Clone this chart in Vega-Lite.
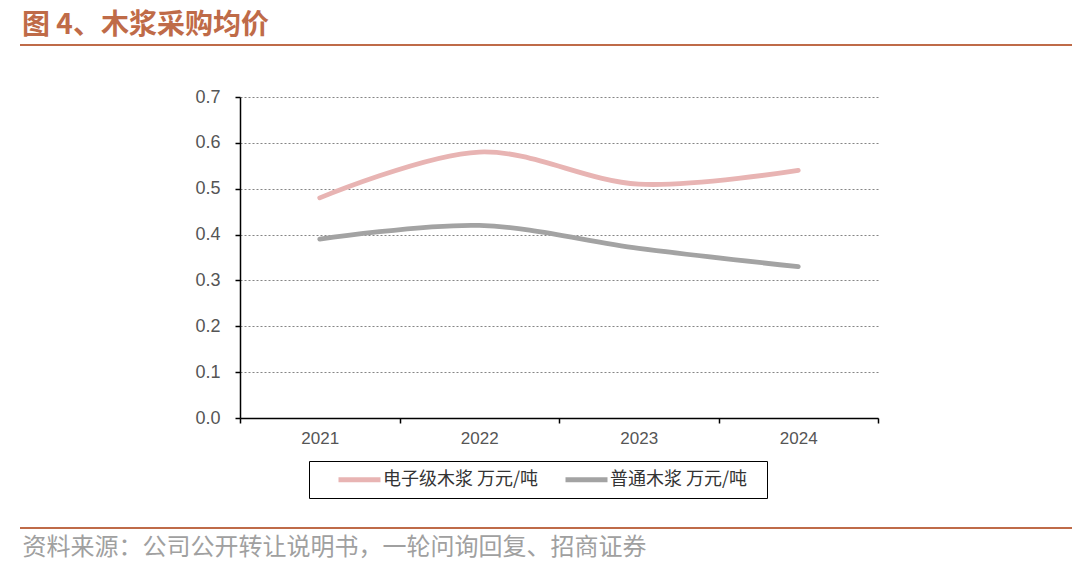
{
  "$schema": "https://vega.github.io/schema/vega-lite/v6.json",
  "width": 638,
  "height": 321,
  "autosize": {"type": "none"},
  "padding": {"left": 240, "top": 97, "right": 202, "bottom": 144},
  "background": "white",
  "title": {
    "text": "图 4、木浆采购均价",
    "anchor": "start",
    "frame": "group",
    "dx": -218,
    "offset": 4,
    "fontSize": 28,
    "font": "Noto Sans CJK SC",
    "fontWeight": "bold",
    "color": "#BF6B48"
  },
  "config": {
    "view": {"stroke": null},
    "font": "Liberation Sans"
  },
  "data": {
    "values": [
      {"year": "2021", "series": "电子级木浆 万元/吨", "value": 0.48},
      {"year": "2022", "series": "电子级木浆 万元/吨", "value": 0.58},
      {"year": "2023", "series": "电子级木浆 万元/吨", "value": 0.51},
      {"year": "2024", "series": "电子级木浆 万元/吨", "value": 0.54},
      {"year": "2021", "series": "普通木浆 万元/吨", "value": 0.39},
      {"year": "2022", "series": "普通木浆 万元/吨", "value": 0.42},
      {"year": "2023", "series": "普通木浆 万元/吨", "value": 0.37},
      {"year": "2024", "series": "普通木浆 万元/吨", "value": 0.33}
    ]
  },
  "layer": [
    {
      "mark": {"type": "rule", "color": "#BF6B48", "strokeWidth": 2},
      "encoding": {
        "x": {"value": -220},
        "x2": {"value": 832},
        "y": {"value": -52}
      }
    },
    {
      "mark": {"type": "rule", "color": "#BF6B48", "strokeWidth": 2},
      "encoding": {
        "x": {"value": -220},
        "x2": {"value": 832},
        "y": {"value": 431}
      }
    },
    {
      "mark": {"type": "line", "strokeWidth": 4.8, "interpolate": "catmull-rom", "strokeCap": "round"},
      "encoding": {
        "x": {
          "field": "year",
          "type": "ordinal",
          "bandPosition": 0.5,
          "scale": {"type": "band", "paddingInner": 0, "paddingOuter": 0},
          "axis": {
            "labelAngle": 0,
            "labelFontSize": 17,
            "labelColor": "#555555",
            "labelPadding": 7,
            "tickBand": "extent",
            "domainColor": "#000000",
            "domainWidth": 1.5,
            "tickColor": "#000000",
            "tickSize": 5,
            "tickWidth": 1.5,
            "grid": false,
            "title": "资料来源：公司公开转让说明书，一轮问询回复、招商证券",
            "titleFont": "Noto Sans CJK SC",
            "titleFontSize": 24,
            "titleFontWeight": "normal",
            "titleColor": "#A0A0A0",
            "titleAnchor": "start",
            "titleAlign": "left",
            "titleBaseline": "middle",
            "titleX": -218,
            "titleY": 129
          }
        },
        "y": {
          "field": "value",
          "type": "quantitative",
          "scale": {"domain": [0, 0.7], "nice": false},
          "axis": {
            "values": [0, 0.1, 0.2, 0.3, 0.4, 0.5, 0.6, 0.7],
            "format": ".1f",
            "title": null,
            "labelFontSize": 18,
            "labelColor": "#555555",
            "labelPadding": 15,
            "domainColor": "#000000",
            "domainWidth": 1.5,
            "tickColor": "#000000",
            "tickSize": 5,
            "tickWidth": 1.5,
            "grid": true,
            "gridColor": "#666666",
            "gridDash": [2, 2],
            "gridWidth": 0.8
          }
        },
        "color": {
          "field": "series",
          "type": "nominal",
          "scale": {
            "domain": ["电子级木浆 万元/吨", "普通木浆 万元/吨"],
            "range": ["#E8B4B3", "#A3A3A3"]
          },
          "legend": {
            "orient": "none",
            "legendX": 69,
            "legendY": 364,
            "direction": "horizontal",
            "title": "　",
            "titleOrient": "right",
            "titleFontSize": 10,
            "titlePadding": 12,
            "strokeColor": "#000000",
            "padding": 8,
            "symbolOffset": 11,
            "symbolType": "M0,0H5.25",
            "symbolSize": 256,
            "symbolStrokeWidth": 5,
            "labelFont": "Noto Sans CJK SC",
            "labelFontSize": 18,
            "labelColor": "#333333",
            "labelOffset": 34,
            "labelLimit": 300,
            "columnPadding": 5
          }
        }
      }
    }
  ]
}
